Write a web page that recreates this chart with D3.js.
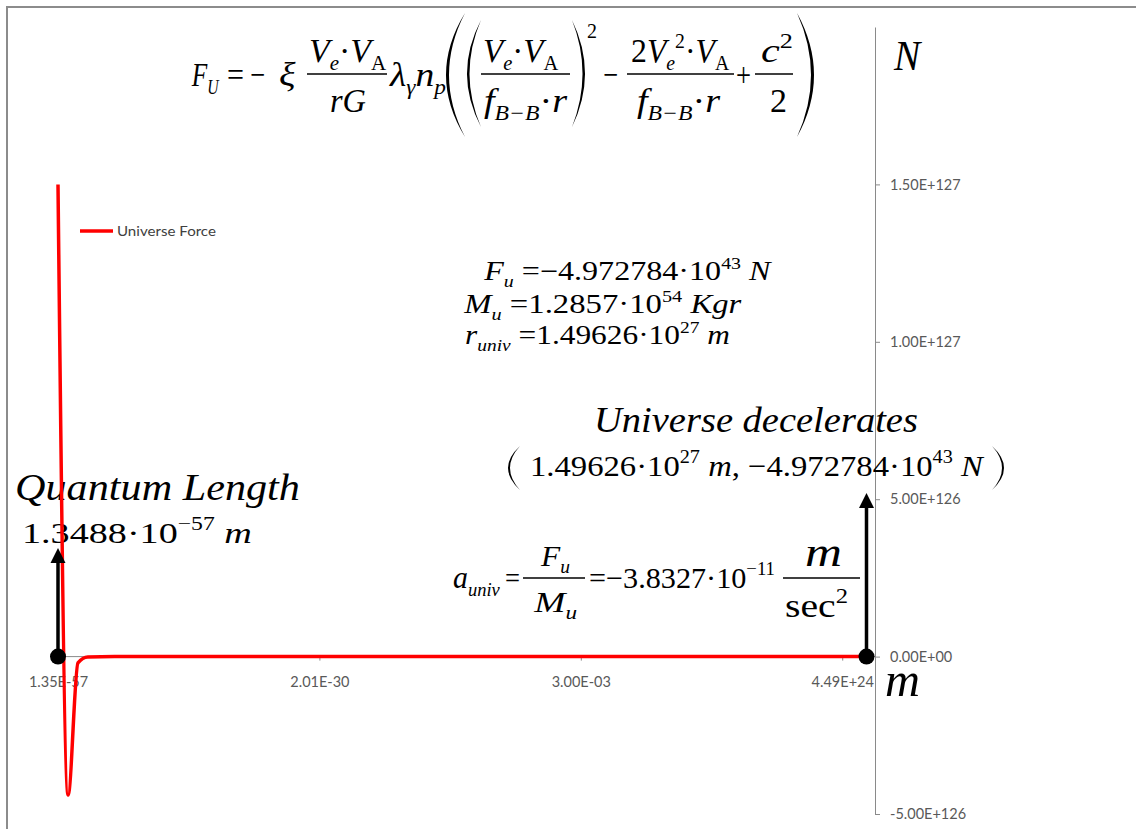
<!DOCTYPE html>
<html>
<head>
<meta charset="utf-8">
<script src="https://cdn.jsdelivr.net/npm/d3@7"></script>
<style>
  body { margin: 0; background: #fff; }
  svg { display: block; }
</style>
</head>
<body>
<div id="chart"></div>
<script>
// Data
const forceX = [1.3488e-57, 1.5e-56, 1.6e-55, 1.7e-54, 1.0e-50, 2.01e-30, 3.00e-03, 4.49e24, 1.49626e27];
const forceY = [1.5e127, -4.4e126, -2.0e125, -1.0e124, 0, 0, 0, 0, 0];
const xTicks = [1.35e-57, 2.01e-30, 3.00e-03, 4.49e24];
const xTickLabels = ['1.35E-57', '2.01E-30', '3.00E-03', '4.49E+24'];
const yTicks = [-5e126, 0, 5e126, 1e127, 1.5e127];
const yTickLabels = ['-5.00E+126', '0.00E+00', '5.00E+126', '1.00E+127', '1.50E+127'];
const markerX = [1.3488e-57, 1.49626e27];      // quantum length, universe radius
const arrowTop = [3.45e126, 5.2e126];
const seriesName = 'Universe Force';

// Constant
const width = 1136;
const height = 829;
const plotLeft = 50;
const axisX = 875;
const serif = '"Liberation Serif", "Times New Roman", Times, serif';
const sans = 'Lato, "Open Sans", sans-serif';
const axisColor = '#8a8a8a';
const tickColor = '#595959';
const red = '#ff0000';

const x = d3.scaleLog().domain([forceX[0], forceX[forceX.length - 1]]).range([58, 866.5]);
const y = d3.scaleLinear().domain([-5e126, 2e127]).range([814, 27]);

const svg = d3.select('#chart').append('svg')
    .attr('width', width)
    .attr('height', height);

// frame
svg.append('path')
    .attr('d', `M7,${height} V7 H${width}`)
    .attr('fill', 'none')
    .attr('stroke', '#8c8c8c')
    .attr('stroke-width', 2);

// ---------- text helpers ----------
function rich(parts, size, base) {
    const t = svg.append('text').attr('x', 0).attr('y', base)
        .style('font-family', serif).style('font-size', size + 'px').attr('fill', 'black');
    parts.forEach(([s, k]) => {
        const sp = t.append('tspan').text(s);
        let yy = base, fs = size;
        if (k[0] === 's') { yy = base + 0.25 * size; fs = 0.62 * size; }
        if (k[0] === 'p') { yy = base - 0.42 * size; fs = 0.62 * size; }
        sp.attr('y', yy).style('font-size', fs + 'px')
          .style('font-family', serif)
          .style('font-style', k[k.length - 1] === 'i' ? 'italic' : 'normal');
    });
    return t;
}

function fit(sel, x0, x1) {
    const b = sel.node().getBBox();
    const s = (x1 - x0) / b.width;
    sel.attr('transform', `translate(${x0},0) scale(${s},1) translate(${-b.x},0)`);
    return sel;
}

function put(parts, size, base, x0, x1) {
    return fit(rich(parts, size, base), x0, x1);
}

function frac(o) {
    put(o.num, o.numSize || o.size, o.numBase, o.numX[0], o.numX[1]);
    put(o.den, o.size, o.denBase, o.denX[0], o.denX[1]);
    svg.append('line')
        .attr('x1', o.bar[0]).attr('x2', o.bar[1])
        .attr('y1', o.barY).attr('y2', o.barY)
        .attr('stroke', 'black').attr('stroke-width', 1.5);
}

function paren(side, x0, x1, y0, y1, th) {
    const mid = (y0 + y1) / 2;
    let d;
    if (side === 'L') {
        const co = 2 * x0 - x1, ci = 2 * (x0 + th) - x1;
        d = `M${x1},${y0} Q${co},${mid} ${x1},${y1} Q${ci},${mid} ${x1},${y0} Z`;
    } else {
        const co = 2 * x1 - x0, ci = 2 * (x1 - th) - x0;
        d = `M${x0},${y0} Q${co},${mid} ${x0},${y1} Q${ci},${mid} ${x0},${y0} Z`;
    }
    svg.append('path').attr('d', d).attr('fill', 'black');
}

// ---------- axes ----------
const yAxis = svg.append('g')
    .attr('transform', `translate(${axisX},0)`)
    .call(d3.axisRight(y).tickValues(yTicks).tickFormat((d, i) => yTickLabels[i])
        .tickSizeInner(5).tickSizeOuter(0).tickPadding(10))
    .attr('font-family', sans)
    .attr('font-size', 14.5);
yAxis.select('.domain').attr('stroke', axisColor);
yAxis.selectAll('.tick line').attr('stroke', axisColor);
yAxis.selectAll('.tick text').attr('fill', tickColor);

const xAxis = svg.append('g')
    .attr('transform', `translate(0,${y(0)})`)
    .call(d3.axisBottom(x).tickValues(xTicks).tickFormat((d, i) => xTickLabels[i])
        .tickSizeInner(4).tickSizeOuter(0).tickPadding(16))
    .attr('font-family', sans)
    .attr('font-size', 14.5);
xAxis.select('.domain').attr('d', `M${plotLeft},0H${axisX}`).attr('stroke', axisColor);
xAxis.selectAll('.tick line').attr('stroke', axisColor);
xAxis.selectAll('.tick text').attr('fill', tickColor);

// ---------- annotations (text) ----------
// top formula
put([['F', 'i'], ['U', 'si']], 34, 86, 191, 220);
put([['=', 'r']], 34, 86, 227, 244);
put([['−', 'r']], 34, 86, 250, 265);
put([['ξ', 'i']], 34, 86, 279, 296);
const veva = [['V', 'i'], ['e', 'si'], ['·', 'r'], ['V', 'i'], ['A', 'sr']];
const fbbr = [['f', 'i'], ['B−B', 'si'], ['·', 'r'], ['r', 'i']];
frac({num: veva, den: [['rG', 'i']], size: 34, numBase: 62, denBase: 112, barY: 74,
      numX: [309, 387], denX: [330, 366], bar: [307, 387]});
put([['λ', 'i'], ['γ', 'si'], ['n', 'i'], ['p', 'si']], 34, 86, 389, 446);
paren('L', 446, 465, 13, 137, 3);
paren('L', 467, 481, 20, 127, 2.5);
frac({num: veva, den: fbbr, size: 34, numBase: 62, denBase: 112, barY: 74,
      numX: [483, 559], denX: [484, 568], bar: [481, 570]});
paren('R', 572, 585, 20, 127, 2.5);
put([['2', 'r']], 22, 38, 587, 597);
put([['−', 'r']], 34, 86, 603, 618);
frac({num: [['2', 'r'], ['V', 'i'], ['e', 'si'], ['2', 'pr'], ['·', 'r'], ['V', 'i'], ['A', 'sr']],
      den: fbbr, size: 34, numBase: 62, denBase: 112, barY: 74,
      numX: [631, 730], denX: [637, 721], bar: [627, 734]});
put([['+', 'r']], 34, 86, 736, 751);
frac({num: [['c', 'i'], ['2', 'pr']], den: [['2', 'r']], size: 34, numBase: 62, denBase: 112, barY: 74,
      numX: [761, 793], denX: [770, 787], bar: [755, 793]});
paren('R', 797, 814, 13, 137, 3);

// axis unit labels
put([['N', 'i']], 42, 70, 893, 922);
put([['m', 'i']], 48, 696, 885, 920);

// values block
put([['F', 'i'], ['u', 'si'], [' =−4.972784·10', 'r'], ['43', 'pr'], [' N', 'i']], 27, 280, 483, 773);
put([['M', 'i'], ['u', 'si'], [' =1.2857·10', 'r'], ['54', 'pr'], [' Kgr', 'i']], 27, 313, 463, 742);
put([['r', 'i'], ['univ', 'si'], [' =1.49626·10', 'r'], ['27', 'pr'], [' m', 'i']], 27, 344, 465, 730);

// universe decelerates
put([['Universe decelerates', 'i']], 36, 432, 594, 918);
paren('L', 508, 520, 446, 490, 2);
put([['1.49626·10', 'r'], ['27', 'pr'], [' m', 'i'], [', −4.972784·10', 'r'], ['43', 'pr'], [' N', 'i']],
    30, 476, 530, 985);
paren('R', 992, 1004, 446, 490, 2);

// acceleration
put([['a', 'i'], ['univ', 'si']], 32, 588, 453, 500);
put([['=', 'r']], 30, 588, 505, 520);
frac({num: [['F', 'i'], ['u', 'si']], den: [['M', 'i'], ['u', 'si']], size: 30, numBase: 566, denBase: 612,
      barY: 578, numX: [540, 570], denX: [533, 577], bar: [523, 585]});
put([['=−3.8327·10', 'r'], ['−11', 'pr']], 30, 588, 589, 775);
frac({num: [['m', 'i']], den: [['sec', 'r'], ['2', 'pr']], numSize: 40, size: 34, numBase: 566, denBase: 617,
      barY: 578, numX: [805, 842], denX: [785, 848], bar: [783, 860]});

// quantum length
put([['Quantum Length', 'i']], 38, 500, 15, 300);
put([['1.3488·10', 'r'], ['−57', 'pr'], [' m', 'i']], 30, 543, 22, 252);

// ---------- legend ----------
svg.append('line')
    .attr('x1', 80).attr('x2', 113).attr('y1', 231).attr('y2', 231)
    .attr('stroke', red).attr('stroke-width', 3.5);
const leg = svg.append('text').attr('x', 0).attr('y', 236)
    .style('font-family', sans).style('font-size', '14px')
    .attr('fill', '#404040').text(seriesName);
fit(leg, 117, 216);

// ---------- series ----------
const line = d3.line()
    .x(d => x(d[0]))
    .y(d => y(d[1]))
    .curve(d3.curveMonotoneX);

svg.append('path')
    .datum(d3.zip(forceX, forceY))
    .attr('d', line)
    .attr('fill', 'none')
    .attr('stroke', red)
    .attr('stroke-width', 3.5)
    .attr('stroke-linejoin', 'round');

// ---------- arrows and points ----------
markerX.forEach((m, i) => {
    const cx = x(m);
    const tip = y(arrowTop[i]);
    svg.append('line')
        .attr('x1', cx).attr('x2', cx)
        .attr('y1', y(0)).attr('y2', tip + 12)
        .attr('stroke', 'black').attr('stroke-width', 3.5);
    svg.append('path')
        .attr('d', `M${cx},${tip} L${cx - 7.5},${tip + 15} L${cx + 7.5},${tip + 15} Z`)
        .attr('fill', 'black');
    svg.append('circle')
        .attr('cx', cx).attr('cy', y(0)).attr('r', 8)
        .attr('fill', 'black');
});
</script>
</body>
</html>
